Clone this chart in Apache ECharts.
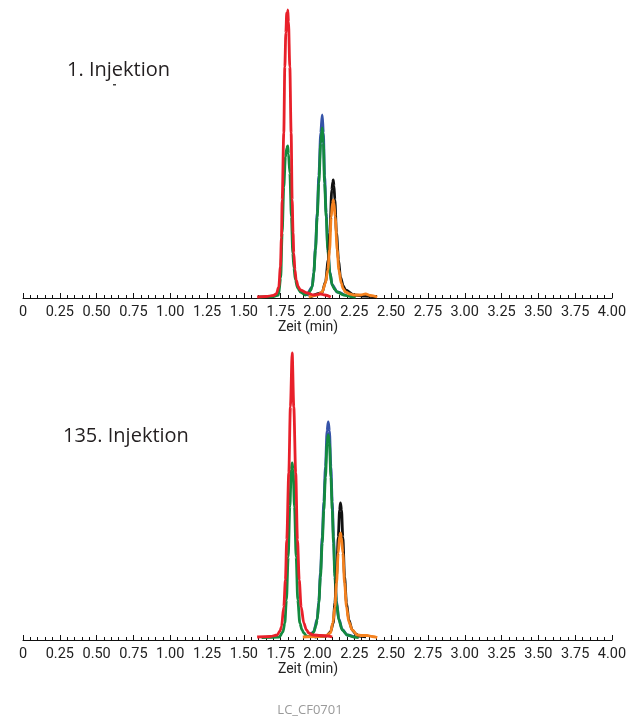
<!DOCTYPE html>
<html>
<head>
<meta charset="utf-8">
<script src="https://cdn.jsdelivr.net/npm/echarts@6/dist/echarts.min.js"></script>
<style>
  html, body { margin: 0; padding: 0; background: #fff; }
  #chart { width: 637px; height: 718px; }
</style>
</head>
<body>
<div id="chart"></div>
<script>
// x axis tick labels (Zeit in min)
const tickLabels = ["0", "0.25", "0.50", "0.75", "1.00", "1.25", "1.50", "1.75", "2.00",
  "2.25", "2.50", "2.75", "3.00", "3.25", "3.50", "3.75", "4.00"];

// 1. Injektion - traces as [time, signal]
const red1 = [[1.59,1],[1.65,1.5],[1.70,2.5],[1.72,4],[1.737,11],[1.748,31],[1.755,60],[1.76,98],
  [1.771,165],[1.778,231],[1.785,265],[1.791,285],[1.794,272],[1.798,288],[1.803,276],[1.812,231],
  [1.821,165],[1.828,98],[1.834,65],[1.839,45],[1.847,28],[1.855,18],[1.87,11],[1.884,8],[1.93,5],
  [1.973,3],[2.02,4],[2.05,3],[2.09,1]];
const green1 = [[1.60,1],[1.70,1.5],[1.735,3],[1.75,20],[1.760,65],[1.771,111],[1.782,141],[1.792,150],
  [1.798,152],[1.803,144],[1.812,125],[1.823,81],[1.832,45],[1.84,30],[1.850,18],[1.865,10],[1.884,6],
  [1.918,3],[1.941,5],[1.954,8],[1.964,11],[1.975,25],[1.986,48],[1.998,81],[2.009,115],[2.022,155],
  [2.032,170],[2.040,155],[2.048,115],[2.059,81],[2.070,48],[2.084,25],[2.100,13],[2.115,9],[2.134,6],
  [2.179,3],[2.224,1.5],[2.26,1]];
const blue1 = [[1.93,2],[1.964,11],[1.975,26],[1.986,50],[1.998,85],[2.009,122],[2.022,165],[2.032,183],
  [2.040,165],[2.048,122],[2.059,85],[2.070,50],[2.084,26],[2.100,13],[2.134,6],[2.18,3]];
const black1 = [[1.95,1],[2.03,5],[2.054,16],[2.073,38],[2.084,65],[2.097,108],[2.104,116],[2.107,118],
  [2.112,112],[2.118,98],[2.129,65],[2.143,38],[2.156,21],[2.175,12],[2.190,8],[2.25,3],[2.32,2],[2.4,1]];
const orange1 = [[1.94,1],[1.998,3],[2.032,6],[2.054,15],[2.070,28],[2.082,48],[2.093,81],[2.102,95],
  [2.107,98],[2.112,95],[2.120,81],[2.134,48],[2.145,28],[2.161,15],[2.175,9],[2.190,6],[2.22,4],
  [2.247,3],[2.29,3],[2.327,4],[2.36,2.5],[2.406,1]];

// 135. Injektion
const red2 = [[1.59,1],[1.68,1.5],[1.726,3],[1.745,7],[1.755,11],[1.771,31],[1.782,58],[1.791,98],
  [1.805,165],[1.816,231],[1.828,285],[1.839,231],[1.852,165],[1.864,98],[1.876,58],[1.889,31],
  [1.907,15],[1.925,8],[1.941,5],[1.97,3],[2.02,2.5],[2.07,2],[2.10,1]];
const green2 = [[1.62,0.5],[1.74,1],[1.765,6],[1.778,15],[1.789,38],[1.801,81],[1.812,131],[1.822,168],
  [1.828,175],[1.834,168],[1.844,131],[1.855,81],[1.866,38],[1.880,15],[1.895,8],[1.907,5],[1.925,2],
  [1.941,1.5],[1.96,3],[1.975,6],[1.988,12],[1.998,18],[2.009,35],[2.020,61],[2.032,95],[2.043,128],
  [2.054,161],[2.065,195],[2.073,203],[2.081,195],[2.091,161],[2.100,128],[2.109,95],[2.118,61],
  [2.129,35],[2.145,18],[2.168,8],[2.202,3],[2.247,1],[2.28,0.5]];
const blue2 = [[1.95,1],[1.975,6.5],[1.998,19],[2.009,37],[2.020,65],[2.032,101],[2.043,136],[2.054,171],
  [2.065,207],[2.073,216],[2.081,207],[2.091,171],[2.100,136],[2.109,101],[2.118,65],[2.129,37],
  [2.145,19],[2.168,8.5],[2.202,3],[2.25,1]];
const black2 = [[1.98,1],[2.06,2],[2.088,6],[2.107,15],[2.118,35],[2.129,61],[2.141,101],[2.150,128],
  [2.156,135],[2.163,128],[2.172,101],[2.184,61],[2.197,35],[2.213,18],[2.236,8],[2.26,4],[2.281,2],[2.33,1]];
const orange2 = [[1.90,1],[2.00,1.5],[2.054,2],[2.088,5],[2.104,15],[2.118,31],[2.129,55],[2.141,85],
  [2.150,102],[2.156,105],[2.163,100],[2.172,85],[2.184,55],[2.197,31],[2.213,16],[2.236,8],[2.270,3],
  [2.30,2.5],[2.338,2.5],[2.37,1.5],[2.406,0.5]];

const colors = { red: "#e8202a", green: "#138a3e", blue: "#3553a8", black: "#111111", orange: "#f5821f" };

const chart = echarts.init(document.getElementById("chart"));

function xAxisDef(gridIndex) {
  return {
    type: "value",
    gridIndex: gridIndex,
    min: 0,
    max: 4,
    interval: 0.25,
    name: "Zeit (min)",
    nameLocation: "middle",
    nameGap: 22,
    nameTextStyle: {
      color: "#222",
      fontSize: 14,
      fontFamily: "Roboto, sans-serif",
      padding: [0, 19, 0, 0],
    },
    splitLine: { show: false },
    axisLine: { onZero: false, lineStyle: { color: "#111", width: 1 } },
    axisTick: { inside: true, length: 5, lineStyle: { color: "#111" } },
    minorTick: { show: true, splitNumber: 5, length: 3, lineStyle: { color: "#111" } },
    axisLabel: {
      color: "#222",
      fontSize: 14.5,
      margin: 7,
      fontFamily: "Roboto, sans-serif",
      formatter: (v) => tickLabels[Math.round(v / 0.25)],
    },
  };
}

function line(data, color, idx) {
  return {
    type: "line",
    data: data,
    xAxisIndex: idx,
    yAxisIndex: idx,
    showSymbol: false,
    smooth: 0.3,
    smoothMonotone: "x",
    silent: true,
    lineStyle: { color: color, width: 2.8 },
  };
}

const option = {
  animation: false,
  grid: [
    { left: 23, width: 589, top: 0, height: 298 },
    { left: 23, width: 589, top: 340, height: 300 },
  ],
  xAxis: [xAxisDef(0), xAxisDef(1)],
  yAxis: [
    { type: "value", gridIndex: 0, min: 0, max: 298, show: false },
    { type: "value", gridIndex: 1, min: -2, max: 298, show: false },
  ],
  graphic: [
    { type: "text", x: 67, y: 70, style: { text: "1. Injektion", font: '20px "Open Sans"', fill: "#231f20", textVerticalAlign: "middle", verticalAlign: "middle" } },
    { type: "rect", shape: { x: 113, y: 84, width: 3, height: 1.5 }, style: { fill: "#444" } },
    { type: "text", x: 63, y: 436, style: { text: "135. Injektion", font: '20px "Open Sans"', fill: "#231f20", textVerticalAlign: "middle", verticalAlign: "middle" } },
    { type: "text", x: 310, y: 710, style: { text: "LC_CF0701", font: '13px "Open Sans"', fill: "#9a9a9a", textAlign: "center", align: "center", textVerticalAlign: "middle", verticalAlign: "middle" } },
  ],
  series: [
    line(blue1, colors.blue, 0),
    line(green1, colors.green, 0),
    line(black1, colors.black, 0),
    line(orange1, colors.orange, 0),
    line(red1, colors.red, 0),
    line(blue2, colors.blue, 1),
    line(green2, colors.green, 1),
    line(black2, colors.black, 1),
    line(orange2, colors.orange, 1),
    line(red2, colors.red, 1),
  ],
};

chart.setOption(option);
</script>
</body>
</html>
